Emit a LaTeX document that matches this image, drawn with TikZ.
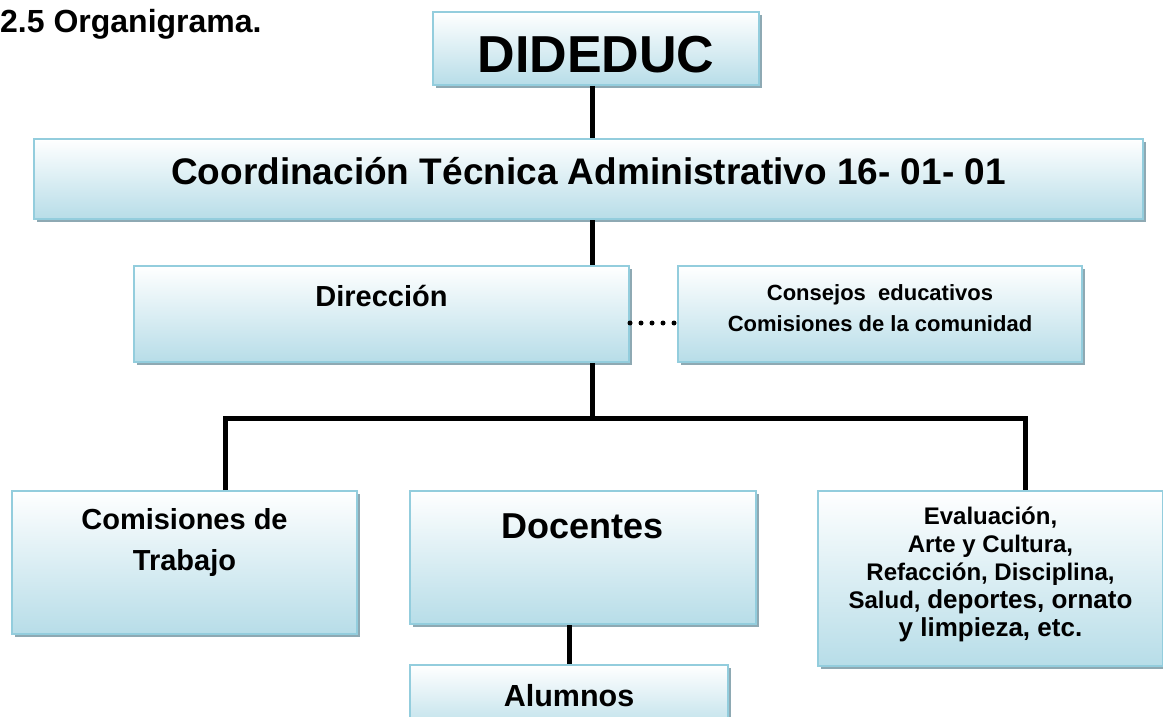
\documentclass[tikz,border=0pt]{standalone}
\usepackage{fontspec}
\setmainfont{Liberation Sans}
\usepackage{tikz}
\usetikzlibrary{positioning,shadows,calc}
\definecolor{orgBorder}{HTML}{93CDDD}
\definecolor{orgFill}{HTML}{B7DDE8}
\definecolor{orgShadow}{HTML}{8EA9B3}
\tikzset{
  orgbox/.style={draw=orgBorder, line width=2pt, top color=white, bottom color=orgFill,
    inner sep=0pt, align=center, anchor=north west,
    drop shadow={shadow xshift=3pt, shadow yshift=-3pt, fill=orgShadow, opacity=1}},
  orgline/.style={line width=5pt, draw=black, line join=miter},
  orgdots/.style={line width=5pt, line cap=round, dash pattern=on 0pt off 11pt}
}
\begin{document}
\begin{tikzpicture}[x=1pt, y=-1pt]
    \useasboundingbox (0,0) rectangle (1163,717);
    \node[anchor=base west, inner sep=0pt, font=\bfseries\fontsize{32}{38}\selectfont] (title) at (0,33) {2.5 Organigrama.};

    \node[orgbox, minimum width=326pt, text height=61pt, text depth=12pt,
      font=\bfseries\fontsize{52}{60}\selectfont] (dideduc) at (432,11) {DIDEDUC};
    \node[orgbox, minimum width=1109pt, text height=45pt, text depth=35pt,
      font=\bfseries\fontsize{37}{44}\selectfont] (coord) at (33,138)
      {Coordinación Técnica Administrativo 16- 01- 01};
    \node[orgbox, minimum width=495pt, text height=40pt, text depth=56pt,
      font=\bfseries\fontsize{29}{35}\selectfont] (dir) at (133,265) {Dirección};
    \node[orgbox, minimum width=404pt, text height=65pt, text depth=31pt,
      font=\bfseries\fontsize{22}{31}\selectfont] (cons) at (677,265)
      {Consejos\ \ educativos\\Comisiones de la comunidad};

    \node[orgbox, minimum width=345pt, text height=79pt, text depth=64pt,
      font=\bfseries\fontsize{29}{41}\selectfont] (comis) at (11,490) {Comisiones de\\Trabajo};
    \node[orgbox, minimum width=346pt, text height=47pt, text depth=86pt,
      font=\bfseries\fontsize{36}{43}\selectfont] (doc) at (409,490) {Docentes};
    \node[orgbox, minimum width=345pt, text height=145pt, text depth=30pt,
      font=\bfseries\fontsize{24}{28}\selectfont] (eval) at (817,490)
      {Evaluación,\\Arte y Cultura,\\Refacción, Disciplina,\\
       Salud, {\fontsize{26}{28}\selectfont deportes, ornato}\\{\fontsize{26}{28}\selectfont y limpieza, etc.}};
    \node[orgbox, minimum width=318pt, text height=41pt, text depth=30pt,
      font=\bfseries\fontsize{30.5}{36}\selectfont] (alum) at (409,664) {Alumnos};

    % tronco y barra de reparto
    \coordinate (spine) at (592,418);
    \coordinate (busL) at (225,418);
    \coordinate (busR) at (1025,418);

    \draw[orgline] (dideduc.south -| spine) -- (coord.north -| spine);
    \draw[orgline] (coord.south -| spine) -- (dir.north -| spine);
    \draw[orgline] (dir.south -| spine) -- (spine);
    \draw[orgline] (comis.north -| busL) -- (busL) -- (busR) -- (eval.north -| busR);
    \draw[orgline] (doc.south -| alum.north) -- (alum.north);
    \draw[orgdots] ([yshift=-9pt]dir.east) -- ([yshift=-9pt]cons.west);
  \end{tikzpicture}
\end{document}
